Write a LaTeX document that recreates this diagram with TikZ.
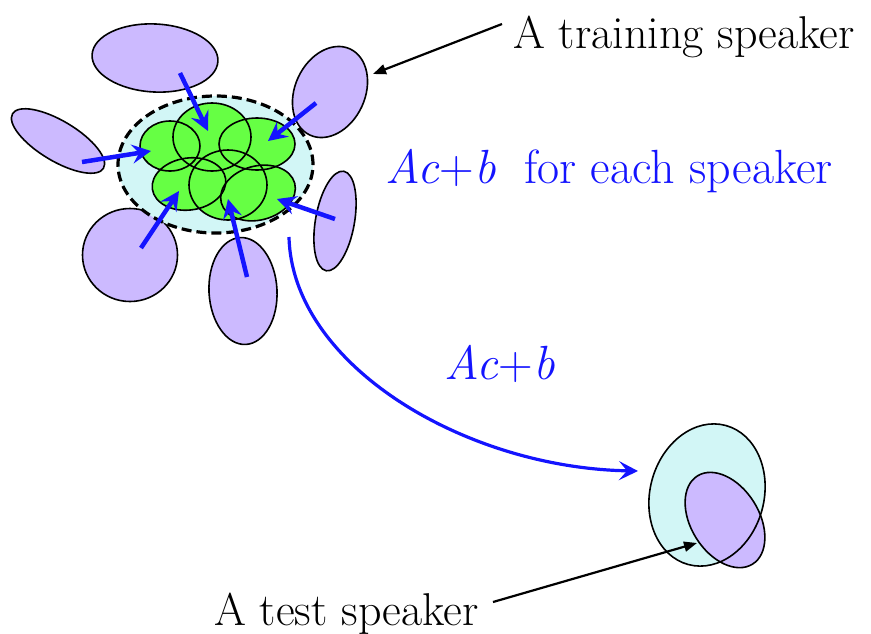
\documentclass[tikz,border=0pt]{standalone}
\usetikzlibrary{shapes.geometric,arrows.meta}
\definecolor{spk}{RGB}{204,186,255}
\definecolor{gmm}{RGB}{102,255,68}
\definecolor{cyn}{RGB}{210,246,246}
\definecolor{bl}{RGB}{20,20,255}
\tikzset{
  ell/.style={ellipse,inner sep=0pt,line width=1.6pt},
  spkell/.style={ell,draw=black,fill=spk},
  gfill/.style={ell,fill=gmm},
  bluearrow/.style={draw=bl,line width=4.5pt,-{Stealth[length=19pt,width=19pt,inset=7pt]}},
  blackarrow/.style={draw=black,line width=2.2pt,-{Triangle[length=13pt,width=10pt]}},
  lbl/.style={inner sep=0pt,anchor=base west,font=\fontsize{46}{52}\selectfont},
  blbl/.style={inner sep=0pt,anchor=base west,text=bl,font=\fontsize{48}{54}\selectfont},
}
\begin{document}
\begin{tikzpicture}[x=1pt,y=-1pt]
\useasboundingbox (0,0) rectangle (871,633);
% training speakers
\node[spkell,minimum width=126pt,minimum height=68pt,rotate=-3] (ptop) at (155,58) {};
\node[spkell,minimum width=106pt,minimum height=40pt,rotate=-31] (pleft) at (58,141) {};
\node[spkell,minimum width=95pt,minimum height=70pt,rotate=65] (pur) at (330,92) {};
\node[spkell,minimum width=101pt,minimum height=39pt,rotate=80] (pright) at (335,221) {};
\node[spkell,minimum width=107pt,minimum height=68pt,rotate=93] (pbm) at (243,291) {};
\node[spkell,minimum width=95pt,minimum height=93pt] (pbl) at (130,255) {};
% universal cloud
\node[ell,draw=black,fill=cyn,dash pattern=on 10pt off 5pt,line width=3.2pt,minimum width=195pt,minimum height=137pt] (cloud) at (215.5,164.5) {};
% gaussians
\node[gfill,minimum width=60pt,minimum height=50pt] (g1) at (170,146) {};
\node[gfill,minimum width=78pt,minimum height=68pt] (g2) at (212,137) {};
\node[gfill,minimum width=76pt,minimum height=52pt] (g3) at (257,144) {};
\node[gfill,minimum width=74pt,minimum height=52pt,rotate=8] (g4) at (189,184) {};
\node[gfill,minimum width=78pt,minimum height=70pt] (g5) at (228,185) {};
\node[gfill,minimum width=76pt,minimum height=54pt,rotate=15] (g6) at (258,193) {};
\begin{scope}[line width=1.6pt]
\draw (g1.center) ellipse [x radius=30, y radius=25];
\draw (g2.center) ellipse [x radius=39, y radius=34];
\draw (g3.center) ellipse [x radius=38, y radius=26];
\draw[rotate around={8:(g4.center)}] (g4.center) ellipse [x radius=37, y radius=26];
\draw (g5.center) ellipse [x radius=39, y radius=35];
\draw[rotate around={15:(g6.center)}] (g6.center) ellipse [x radius=38, y radius=27];
\end{scope}
% adaptation arrows
\coordinate (a1s) at (180,73);  \coordinate (a1e) at (208,131);
\coordinate (a2s) at (316,103); \coordinate (a2e) at (268,141);
\coordinate (a3s) at (82,162);  \coordinate (a3e) at (151,151);
\coordinate (a4s) at (141,248); \coordinate (a4e) at (179,191);
\coordinate (a5s) at (247,277); \coordinate (a5e) at (228,199);
\coordinate (a6s) at (335,219); \coordinate (a6e) at (277,199);
\foreach \i in {1,...,6} \draw[bluearrow] (a\i s) -- (a\i e);
% test speaker
\node[ell,fill=cyn,minimum width=144pt,minimum height=114pt,rotate=75] (tcloud) at (707,495) {};
\node[ell,fill=spk,minimum width=104pt,minimum height=68pt,rotate=-58] (tspk) at (725,520) {};
\draw[line width=1.6pt,rotate around={75:(tcloud.center)}] (tcloud.center) ellipse [x radius=72, y radius=57];
\draw[line width=1.6pt,rotate around={-58:(tspk.center)}] (tspk.center) ellipse [x radius=52, y radius=34];
% curve
\coordinate (cs) at (289,237);
\coordinate (ce) at (638,471);
\draw[draw=bl,line width=3.2pt,-{Stealth[length=19pt,width=19pt,inset=8pt]}] (cs) .. controls (292,365) and (465,468) .. (ce);
% labels
\node[lbl] (train) at (513,48) {A training speaker};
\node[lbl] (test) at (214,625) {A test speaker};
\node[blbl] (acb1) at (385,183) {\textit{Ac}+\textit{b}};
\node[blbl] (fes) at (524,183) {for each speaker};
\node[blbl] (acb2) at (444,379) {\textit{Ac}+\textit{b}};
\coordinate (trs) at (502,24);
\coordinate (tre) at (373,74);
\draw[blackarrow] (trs) -- (tre);
\coordinate (tes) at (493,602);
\coordinate (tee) at (697,543);
\draw[blackarrow] (tes) -- (tee);
\end{tikzpicture}
\end{document}
